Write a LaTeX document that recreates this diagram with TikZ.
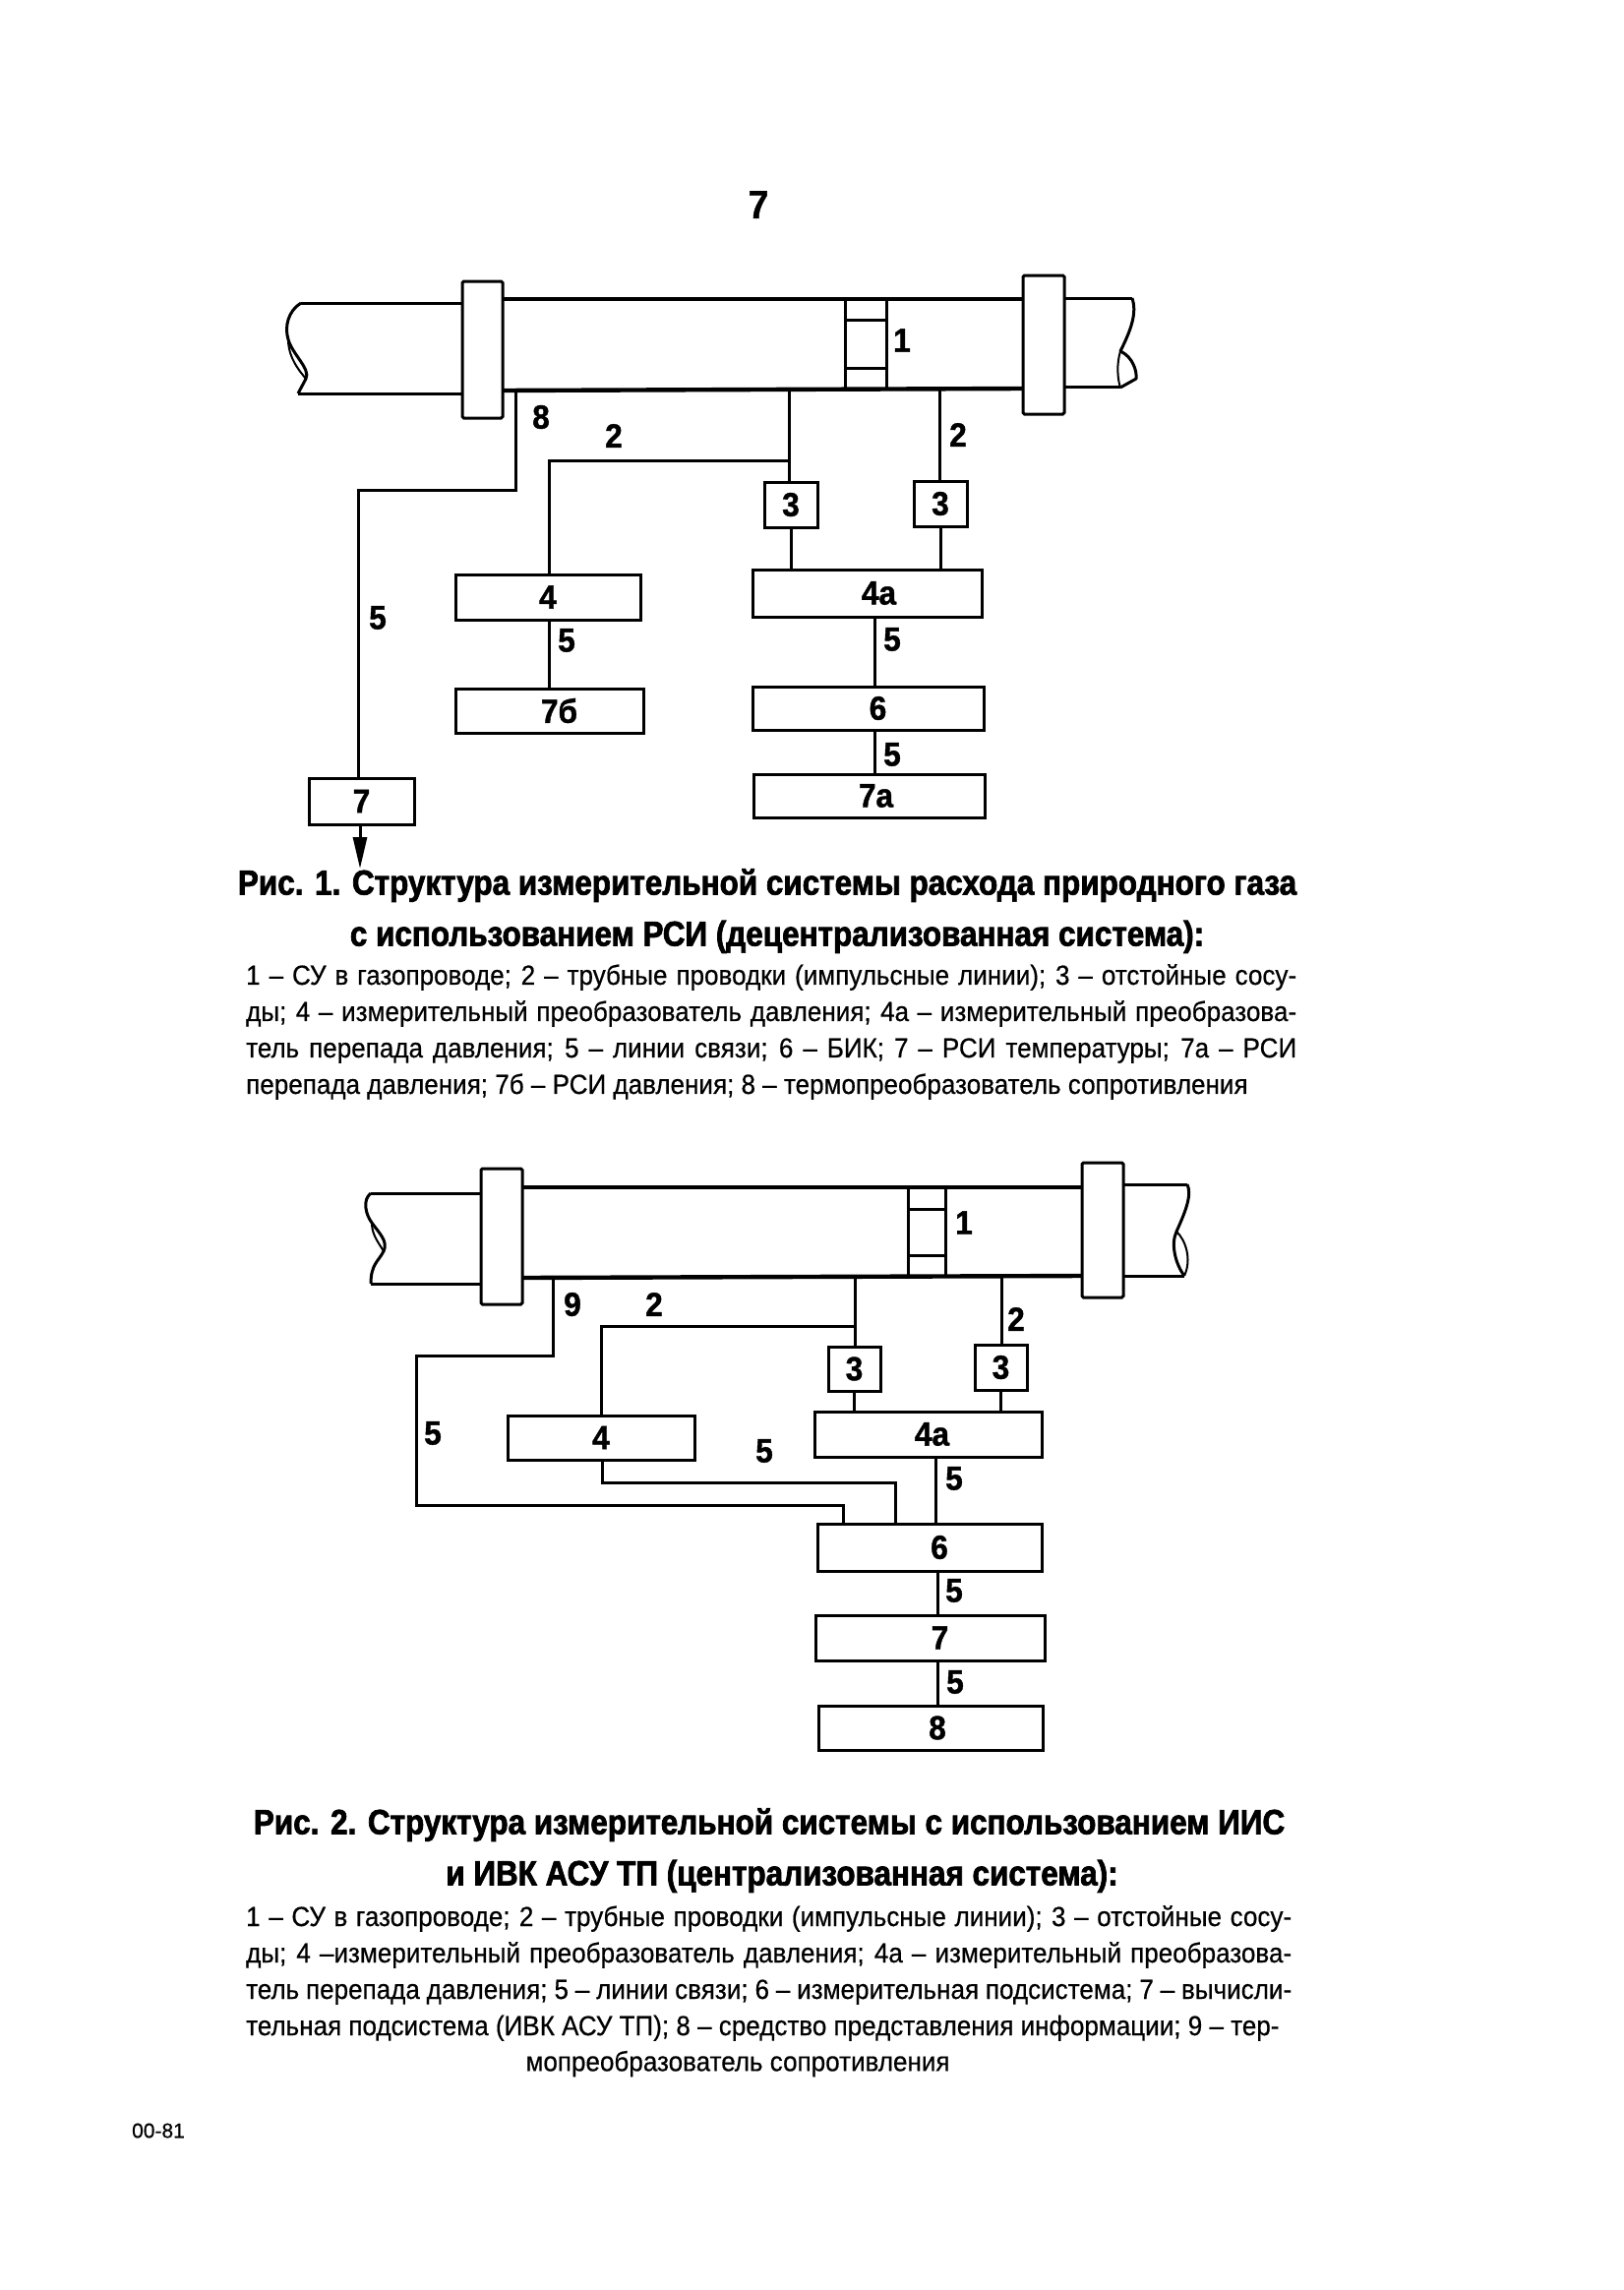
\documentclass[tikz,border=0pt]{standalone}
\usepackage{fontspec}
\setmainfont[FakeStretch=0.93,BoldFeatures={FakeBold=1.2}]{Liberation Sans}
\newfontfamily\capfont[FakeStretch=0.886,BoldFeatures={FakeBold=2}]{Liberation Sans}
\newfontfamily\wordfont[FakeStretch=0.93,FakeBold=0.5]{Liberation Sans}
\newfontfamily\plainfont[FakeBold=0.5]{Liberation Sans}
\usetikzlibrary{arrows.meta}
\tikzset{
    blk/.style={draw,line width=3pt,inner sep=0pt,font=\fontsize{34}{34}\selectfont\bfseries},
    flange/.style={draw,line width=3pt,rounded corners=1.5pt,inner sep=0pt,fill=white},
    num/.style={inner sep=0pt,font=\fontsize{34}{34}\selectfont\bfseries},
    capt/.style={inner sep=0pt,align=center,font=\capfont\fontsize{35.5}{52}\selectfont\bfseries},
    legend/.style={inner sep=0pt,anchor=north west,text width=1068pt,align=justify,font=\wordfont\fontsize{28}{37}\selectfont},
    wire/.style={line width=3pt},
    tube/.style={line width=3pt,line join=round},
    pipe/.style={line width=4.4pt}
}
\begin{document}
\begin{tikzpicture}[x=1pt,y=-1pt]
    \useasboundingbox (0,0) rectangle (1650,2328);
    \node[num,font=\fontsize{40}{40}\selectfont\bfseries] (pagenum) at (771,208) {7};
    % first scheme
    \draw[pipe](511,304)--(1040,304);
    \draw[pipe](511,397)--(1040,395);
    \draw[tube](306,308)--(470,308);
    \draw[tube](303,400)--(470,400);
    \draw[tube](1082,303)--(1151,303);
    \draw[tube](1082,393)--(1139,393);
    \draw[tube](306,308) .. controls (293,316) and (289,332) .. (293,345) .. controls (297,360) and (316,375) .. (311,385) -- (303,400);
    \draw[line width=2pt](293,345) .. controls (293,358) and (298,370) .. (311,385);
    \draw[tube](1151,303) .. controls (1156,318) and (1150,335) .. (1139,357) .. controls (1152,363) and (1156,378) .. (1155,385) -- (1139,394);
    \draw[line width=2pt](1139,357) .. controls (1135,370) and (1136,385) .. (1139,394);
    \draw[tube](859,304)--(859,396);
    \draw[tube](901,304)--(901,396);
    \draw[tube](859,325)--(901,325);
    \draw[tube](859,374)--(901,374);
    \node[flange,minimum width=41pt,minimum height=139pt] (flA) at (490.5,355.5) {};
    \node[flange,minimum width=42pt,minimum height=141pt] (flB) at (1061,350.5) {};
    \node[blk,minimum width=107pt,minimum height=47pt] (a7) at (367.5,814.5) {7};
    \node[blk,minimum width=54pt,minimum height=46pt] (a3L) at (804,513) {3};
    \node[blk,minimum width=54pt,minimum height=46pt] (a3R) at (956,512) {3};
    \node[blk,minimum width=188pt,minimum height=46pt] (a4) at (557,607) {4};
    \node[blk,minimum width=233pt,minimum height=48pt] (a4a) at (881.5,603) {\hspace*{24pt}4а};
    \node[blk,minimum width=191pt,minimum height=45pt] (a7b) at (558.5,722.5) {\hspace*{20pt}7б};
    \node[blk,minimum width=235pt,minimum height=44pt] (a6) at (882.5,720) {\hspace*{20pt}6};
    \node[blk,minimum width=235pt,minimum height=44pt] (a7a) at (883.5,809) {\hspace*{14pt}7а};
    \coordinate (tapT) at (524,397);
    \coordinate (tapL) at (802,397);
    \coordinate (tapR) at (955,395);
    \coordinate (jogT) at (364,498);
    \coordinate (jogL) at (558,468);
    \coordinate (midA) at (889,627);
    \coordinate (outA) at (366,883);
    \draw[wire](tapT)|-(jogT)--(jogT|-a7.north);
    \draw[wire](tapL)--(tapL|-a3L.north);
    \draw[wire](tapL|-jogL)--(jogL)--(jogL|-a4.north);
    \draw[wire](tapR)--(tapR|-a3R.north);
    \draw[wire](a3L.south)--(a3L.south|-a4a.north);
    \draw[wire](a3R.south)--(a3R.south|-a4a.north);
    \draw[wire](jogL|-a4.south)--(jogL|-a7b.north);
    \draw[wire](midA|-a4a.south)--(midA|-a6.north);
    \draw[wire](midA|-a6.south)--(midA|-a7a.north);
    \draw[-{Triangle[length=32pt,width=14pt]},wire](a7.south-|outA)--(outA);
    \node[num] (n1a) at (917,346) {1};
    \node[num] (n8a) at (550,424) {8};
    \node[num] (n2a) at (624,443) {2};
    \node[num] (n2b) at (974,442) {2};
    \node[num] (n5a) at (384,628) {5};
    \node[num] (n5b) at (576,651) {5};
    \node[num] (n5c) at (907,650) {5};
    \node[num] (n5d) at (907,767) {5};
    \node[capt] (captA) at (780,926) {Рис. 1. Структура измерительной системы расхода природного газа\\\hspace*{20pt}с использованием РСИ (децентрализованная система):};
    \node[legend] (legA) at (250,980) {1 – СУ в газопроводе; 2 – трубные проводки (импульсные линии); 3 – отстойные сосу-\linebreak ды; 4 – измерительный преобразователь давления; 4а – измерительный преобразова-\linebreak тель перепада давления; 5 – линии связи; 6 – БИК; 7 – РСИ температуры; 7а – РСИ\linebreak перепада давления; 7б – РСИ давления; 8 – термопреобразователь сопротивления};
    % second scheme
    \draw[pipe](531,1207)--(1100,1207);
    \draw[pipe](531,1299)--(1100,1297);
    \draw[tube](377,1213)--(489,1213);
    \draw[tube](377,1305)--(489,1305);
    \draw[tube](1142,1204)--(1207,1204);
    \draw[tube](1142,1297)--(1204,1297);
    \draw[tube](377,1213) .. controls (368,1220) and (372,1235) .. (378,1243) .. controls (385,1253) and (395,1262) .. (390,1272) .. controls (385,1282) and (377,1285) .. (377,1305);
    \draw[line width=2pt](378,1243) .. controls (378,1255) and (384,1262) .. (390,1272);
    \draw[tube](1207,1204) .. controls (1212,1215) and (1205,1232) .. (1196,1252) .. controls (1190,1265) and (1195,1285) .. (1204,1297);
    \draw[line width=2pt](1196,1252) .. controls (1205,1260) and (1212,1280) .. (1204,1297);
    \draw[tube](923,1207)--(923,1298);
    \draw[tube](961,1207)--(961,1298);
    \draw[tube](923,1229)--(961,1229);
    \draw[tube](923,1276)--(961,1276);
    \node[flange,minimum width=42pt,minimum height=138pt] (flC) at (510,1257) {};
    \node[flange,minimum width=42pt,minimum height=137pt] (flD) at (1121,1250.5) {};
    \node[blk,minimum width=53pt,minimum height=45pt] (b3L) at (868.5,1391.5) {3};
    \node[blk,minimum width=53pt,minimum height=46pt] (b3R) at (1017.5,1390) {3};
    \node[blk,minimum width=231pt,minimum height=46pt] (b4a) at (943.5,1458) {\hspace*{8pt}4а};
    \node[blk,minimum width=190pt,minimum height=45pt] (b4) at (611,1461.5) {4};
    \node[blk,minimum width=228pt,minimum height=48pt] (b6) at (945,1573) {\hspace*{20pt}6};
    \node[blk,minimum width=233pt,minimum height=46pt] (b7) at (945.5,1665) {\hspace*{20pt}7};
    \node[blk,minimum width=228pt,minimum height=45pt] (b8) at (946,1756.5) {\hspace*{14pt}8};
    \coordinate (tapU) at (562,1299);
    \coordinate (tapV) at (869,1299);
    \coordinate (tapW) at (1018,1297);
    \coordinate (jogU) at (423,1378);
    \coordinate (jogW) at (423,1530);
    \coordinate (entU) at (857,1530);
    \coordinate (jogV) at (611,1348);
    \coordinate (jogX) at (612,1507);
    \coordinate (entX) at (910,1507);
    \coordinate (midB) at (951,1481);
    \coordinate (midC) at (953,1597);
    \draw[wire](tapU)|-(jogU)--(jogW)--(entU)--(entU|-b6.north);
    \draw[wire](tapV)--(tapV|-b3L.north);
    \draw[wire](tapV|-jogV)--(jogV)--(jogV|-b4.north);
    \draw[wire](tapW)--(tapW|-b3R.north);
    \draw[wire](b3L.south)--(b3L.south|-b4a.north);
    \draw[wire](b3R.south)--(b3R.south|-b4a.north);
    \draw[wire](jogX|-b4.south)--(jogX)--(entX)--(entX|-b6.north);
    \draw[wire](midB|-b4a.south)--(midB|-b6.north);
    \draw[wire](midC|-b6.south)--(midC|-b7.north);
    \draw[wire](midC|-b7.south)--(midC|-b8.north);
    \node[num] (m1a) at (980,1243) {1};
    \node[num] (m9a) at (582,1326) {9};
    \node[num] (m2a) at (665,1326) {2};
    \node[num] (m2b) at (1033,1341) {2};
    \node[num] (m5a) at (440,1457) {5};
    \node[num] (m5b) at (777,1475) {5};
    \node[num] (m5c) at (970,1503) {5};
    \node[num] (m5d) at (970,1617) {5};
    \node[num] (m5e) at (971,1710) {5};
    \node[capt] (captB) at (782,1881) {Рис. 2. Структура измерительной системы с использованием ИИС\\\hspace*{26pt}и ИВК АСУ ТП (централизованная система):};
    \node[legend,text width=1063pt] (legB) at (250,1937) {1 – СУ в газопроводе; 2 – трубные проводки (импульсные линии); 3 – отстойные сосу-\linebreak ды; 4 –измерительный преобразователь давления; 4а – измерительный преобразова-\linebreak тель перепада давления; 5 – линии связи; 6 – измерительная подсистема; 7 – вычисли-\linebreak тельная подсистема (ИВК АСУ ТП); 8 – средство представления информации; 9 – тер-};
    \node[inner sep=0pt,font=\wordfont\fontsize{28}{37}\selectfont] (legC) at (750,2098) {мопреобразователь сопротивления};
    \node[inner sep=0pt,font=\plainfont\fontsize{21}{24}\selectfont] (sheet) at (161,2166) {00-81};
\end{tikzpicture}
\end{document}
